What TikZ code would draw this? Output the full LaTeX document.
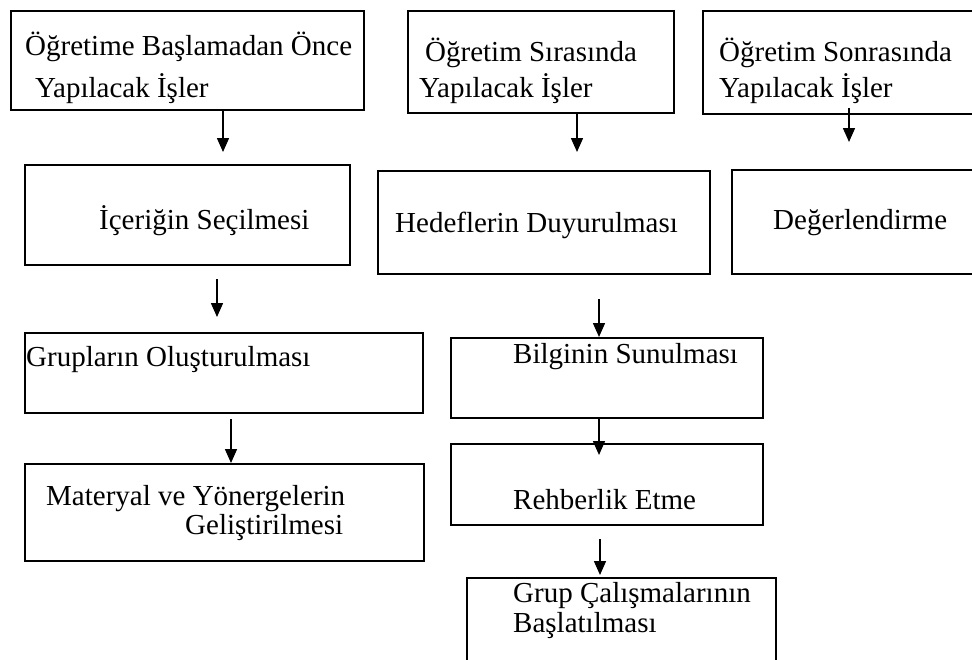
\documentclass[tikz,border=0pt]{standalone}
\usepackage{fontspec}
\setmainfont{Liberation Serif}
\usetikzlibrary{arrows.meta}
\begin{document}
\begin{tikzpicture}[x=1pt,y=-1pt,
  box/.style={draw, line width=2pt, rectangle, inner sep=0pt, anchor=north west},
  lbl/.style={anchor=base west, inner sep=0pt, font=\fontsize{29}{34}\selectfont},
  arr/.style={line width=1.5pt, -{Triangle[width=12pt,length=14pt]}}]
\useasboundingbox (0,0) rectangle (972,659);
\clip (0,0) rectangle (972,659);
% boxes
\node[box, minimum width=353pt, minimum height=99pt]  (A) at (10,10) {};
\node[box, minimum width=266pt, minimum height=102pt] (E) at (407,10) {};
\node[box, minimum width=290pt, minimum height=103pt] (F) at (702,10) {};
\node[box, minimum width=325pt, minimum height=100pt] (B) at (24,164) {};
\node[box, minimum width=332pt, minimum height=103pt] (H) at (377,170) {};
\node[box, minimum width=260pt, minimum height=104pt] (G) at (731,169) {};
\node[box, minimum width=398pt, minimum height=80pt]  (C) at (24,332) {};
\node[box, minimum width=399pt, minimum height=97pt]  (D) at (24,463) {};
\node[box, minimum width=312pt, minimum height=80pt]  (I) at (450,337) {};
\node[box, minimum width=312pt, minimum height=81pt]  (R) at (450,443) {};
\node[box, minimum width=309pt, minimum height=120pt] (K) at (466,577) {};
% texts
\node[lbl] (tA1) at (25,55) {Öğretime Başlamadan Önce};
\node[lbl] (tA2) at (35,97) {Yapılacak İşler};
\node[lbl] (tE1) at (425,61) {Öğretim Sırasında};
\node[lbl] (tE2) at (419,97) {Yapılacak İşler};
\node[lbl] (tF1) at (719,61) {Öğretim Sonrasında};
\node[lbl] (tF2) at (719,97) {Yapılacak İşler};
\node[lbl] (tB) at (99,229) {İçeriğin Seçilmesi};
\node[lbl] (tH) at (395,232) {Hedeflerin Duyurulması};
\node[lbl] (tG) at (773,229) {Değerlendirme};
\node[lbl] (tC) at (26,366) {Grupların Oluşturulması};
\node[lbl] (tD1) at (46,505) {Materyal ve Yönergelerin};
\node[lbl] (tD2) at (185,534) {Geliştirilmesi};
\node[lbl] (tI) at (513,363) {Bilginin Sunulması};
\node[lbl] (tR) at (513,509) {Rehberlik Etme};
\node[lbl] (tK1) at (513,602) {Grup Çalışmalarının};
\node[lbl] (tK2) at (513,632) {Başlatılması};
% arrows
\draw[arr] ([xshift=213pt]A.south west) -- ([xshift=199pt,yshift=12pt]B.north west);
\draw[arr] ([xshift=193pt,yshift=-13pt]B.south west) -- ([xshift=193pt,yshift=15pt]C.north west);
\draw[arr] ([xshift=207pt,yshift=-5pt]C.south west) -- ([xshift=207pt]D.north west);
\draw[arr] ([xshift=170pt]E.south west) -- ([xshift=200pt,yshift=18pt]H.north west);
\draw[arr] ([xshift=147pt,yshift=7pt]F.south west) -- ([xshift=118pt,yshift=27pt]G.north west);
\draw[arr] ([xshift=222pt,yshift=-24pt]H.south west) -- ([xshift=149pt]I.north west);
\draw[arr] ([xshift=149pt]I.south west) -- ([xshift=149pt,yshift=-12pt]R.north west);
\draw[arr] ([xshift=150pt,yshift=-13pt]R.south west) -- ([xshift=134pt,yshift=2pt]K.north west);
\end{tikzpicture}
\end{document}
